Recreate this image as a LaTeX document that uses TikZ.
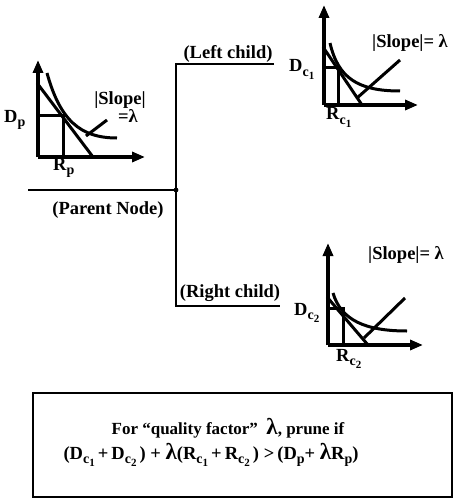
\documentclass[tikz,border=0pt]{standalone}
\usepackage{fontspec}
\setmainfont{Liberation Serif}
\usetikzlibrary{arrows.meta}
\newcommand\sba[1]{\raisebox{-0.5ex}{\fontsize{14}{14}\selectfont #1}}
\newcommand\sbb[1]{\raisebox{-0.45ex}{\fontsize{11}{11}\selectfont #1}}
\newcommand\biglam{{\fontsize{23}{23}\selectfont λ}}
\tikzset{
  axis/.style={line width=3.2pt,-{Triangle[length=13pt,width=10pt]}},
  gline/.style={line width=3pt},
  thinline/.style={line width=1.4pt},
  lbl/.style={font=\fontsize{18.5}{20}\selectfont\bfseries, inner sep=0pt},
  boxtext/.style={font=\fontsize{17}{19}\selectfont\bfseries, inner sep=0pt},
}
\begin{document}
\begin{tikzpicture}[x=1pt,y=-1pt]
\useasboundingbox (0,0) rectangle (458,500);
% ---------- parent graph
\coordinate (po) at (38,157);
\coordinate (py) at (38,60);
\coordinate (px) at (145,157);
\draw[axis] (po) -- (py);
\draw[axis] (po) -- (px);
\coordinate (pd) at (38,116);
\coordinate (pr) at (63,116);
\coordinate (prb) at (63,157);
\draw[gline] (pd) -- (pr) -- (prb);
\coordinate (pt1) at (37,83);
\coordinate (pt2) at (93,157);
\draw[gline] (pt1) -- (pt2);
\coordinate (pc1) at (47,73);
\coordinate (pc2) at (117,138);
\draw[gline] (pc1) .. controls (60,120) and (80,138) .. (pc2);
\coordinate (pp1) at (107,120);
\coordinate (pp2) at (86,136);
\draw[gline] (pp1) -- (pp2);
\node[lbl, anchor=base west] (dp) at (4,122) {D\sba{p}};
\node[lbl, anchor=base west] (rp) at (53,170) {R\sba{p}};
\node[lbl] (sp1) at (120,100) {|Slope|};
\node[lbl] (sp2) at (128,116) {=λ};
% ---------- tree
\coordinate (pl) at (28,190);
\coordinate (j) at (176,190);
\coordinate (jt) at (176,64);
\coordinate (jb) at (176,306);
\coordinate (lc) at (274,64);
\coordinate (rc) at (280,306);
\draw[thinline] (pl) -- (j);
\draw[thinline] (lc) -- (jt) -- (jb) -- (rc);
\fill (j) circle (2.4pt);
\node[lbl] (pn) at (108,210) {(Parent Node)};
\node[lbl] (lcl) at (228,54) {(Left child)};
\node[lbl] (rcl) at (230,293) {(Right child)};
% ---------- left child graph
\coordinate (lo) at (324,105);
\draw[axis] (lo) -- (324,5);
\draw[axis] (lo) -- (418,105);
\draw[gline] (324,68) -- (338,68) -- (338,105);
\draw[gline] (323,47) -- (362,105);
\draw[gline] (330,43) .. controls (338,78) and (358,91) .. (400,91);
\draw[gline] (400,60) -- (357,98);
\node[lbl, anchor=base west] (dc1) at (289,72) {D\sba{c\sbb{1}}};
\node[lbl, anchor=base west] (rc1) at (326,120) {R\sba{c\sbb{1}}};
\node[lbl] (s1) at (410,43) {|Slope|= λ};
% ---------- right child graph
\coordinate (ro) at (328,345);
\draw[axis] (ro) -- (328,243);
\draw[axis] (ro) -- (423,345);
\draw[gline] (328,308) -- (343,308) -- (343,345);
\draw[gline] (327,297) -- (368,345);
\draw[gline] (333,293) .. controls (341,320) and (365,331) .. (407,331);
\draw[gline] (405,298) -- (364,338);
\node[lbl, anchor=base west] (dc2) at (294,315) {D\sba{c\sbb{2}}};
\node[lbl, anchor=base west] (rc2) at (336,361) {R\sba{c\sbb{2}}};
\node[lbl] (s2) at (406,255) {|Slope|= λ};
% ---------- bottom box
\draw[line width=1.5pt] (33,393) rectangle (452,497);
\node[boxtext] (t1) at (228,428) {For “quality factor”\ \ \biglam, prune if};
\node[lbl] (t2) at (211,455) {(D\sba{c\sbb{1}}\,+\,D\sba{c\sbb{2}}\,)\ +\ \biglam(R\sba{c\sbb{1}}\,+\,R\sba{c\sbb{2}}\,)\ >\,(D\sba{p}+\ \biglam R\sba{p})};
\end{tikzpicture}
\end{document}
